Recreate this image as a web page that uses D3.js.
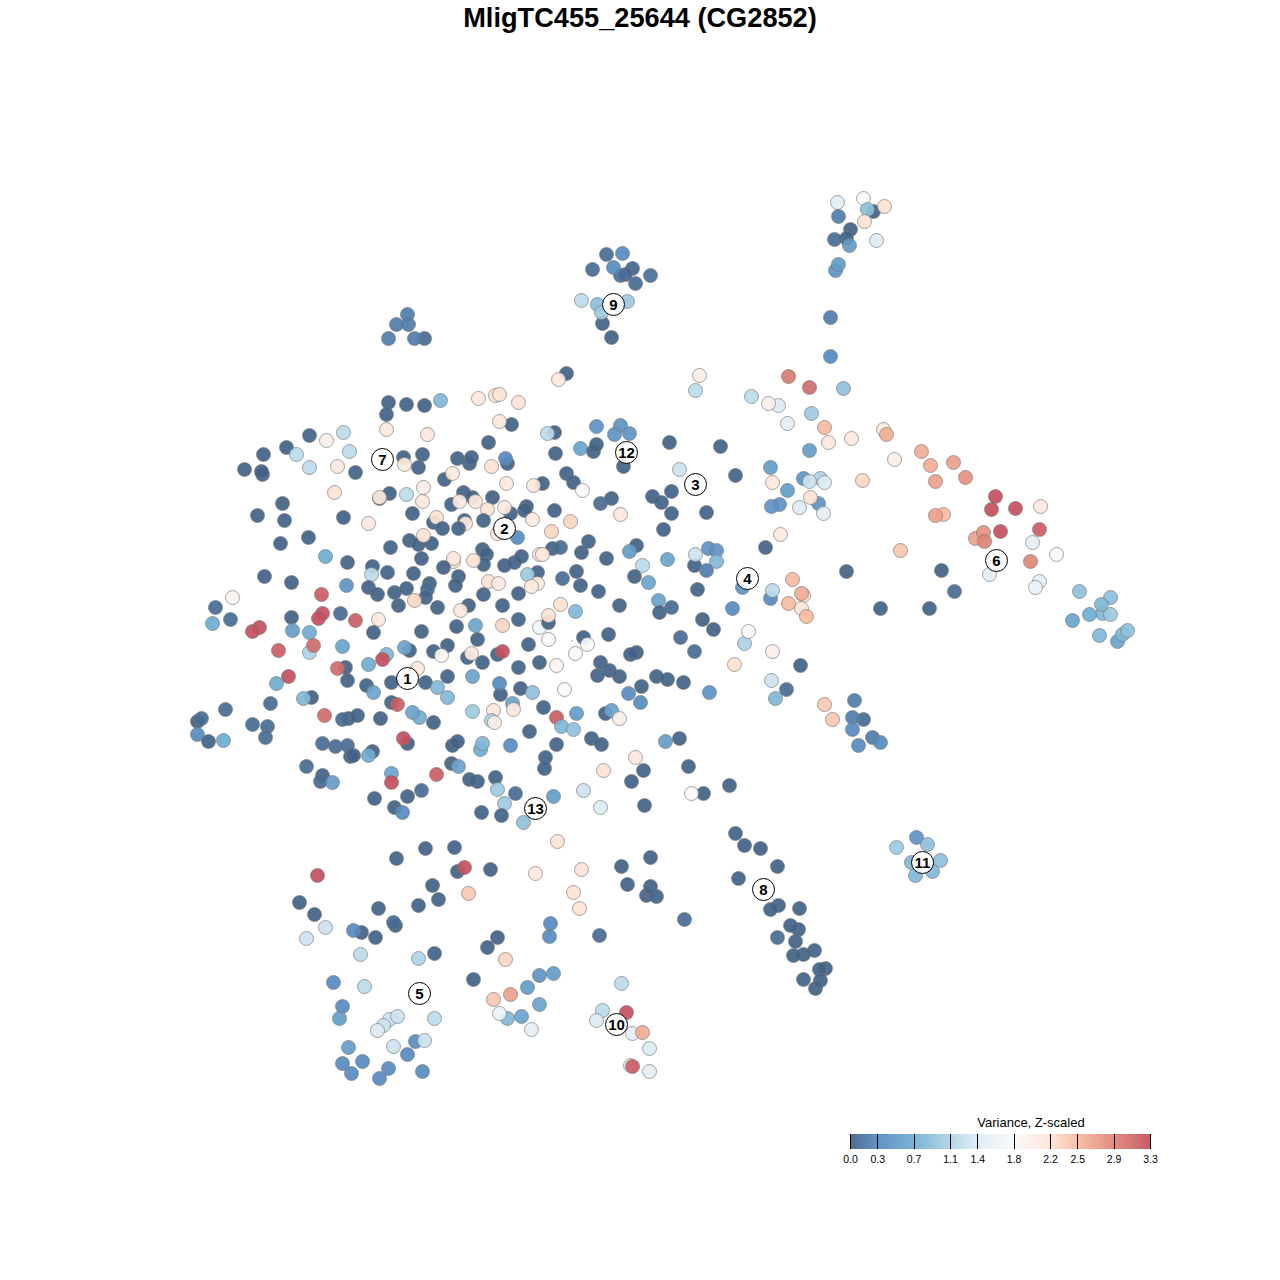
<!DOCTYPE html>
<html><head><meta charset="utf-8">
<script src="https://cdn.jsdelivr.net/npm/d3@7/dist/d3.min.js"></script>
<style>html,body{margin:0;padding:0;background:#fff}svg{display:block}text{font-family:"Liberation Sans",Arial,sans-serif}</style>
</head><body><div id="c"></div>
<script>
const chartTitle="MligTC455_25644 (CG2852)";
const legendTitle="Variance, Z-scaled";
const tickValues=[0,0.3,0.7,1.1,1.4,1.8,2.2,2.5,2.9,3.3];
const tickLabels=["0.0","0.3","0.7","1.1","1.4","1.8","2.2","2.5","2.9","3.3"];
const rampColors=["#053061","#2166ac","#4393c3","#92c5de","#d1e5f0","#f7f7f7","#fddbc7","#f4a582","#d6604d","#b2182b"];
// [tSNE-1, tSNE-2, variance]
const westCells=[[309,435,0],[326,440,2],[349,451,1.2],[343,432,1.2],[286,447,0],[296,454,1.2],[263,454,0],[244,469,0],[262,474,0],[261,471,0],[309,467,1.2],[337,466,2.1],[334,492,2.2],[282,503,0],[257,515,0],[284,520,0],[343,517,0],[308,537,0],[280,543,0],[325,556,.7],[347,562,0],[264,576,0],[291,582,0],[346,585,.4],[232,597,1.9],[321,594,3.2],[215,607,.07],[322,613,3.3],[318,618,3.3],[340,613,.07],[230,619,.07],[291,617,0],[212,623,.7],[259,627,3.3],[252,631,3.3],[292,630,.5],[309,652,1.1],[309,632,.7],[313,645,3.1],[278,650,3.2],[342,646,.6],[345,667,0],[337,668,3.1],[347,680,0],[288,676,3.3],[276,683,.7],[270,703,.07],[311,697,0],[303,698,.8],[324,715,3.1],[225,709,.07],[197,721,0],[201,718,.07],[197,734,.3],[208,741,0],[223,740,.7],[252,724,.07],[267,726,.07],[265,737,.07],[348,718,0],[342,719,.07],[322,743,.07],[335,746,.07],[347,745,.07],[350,756,0],[306,766,.07],[322,775,0],[320,781,.07],[332,782,.5]];
const upperCoreCells=[[388,402,0],[386,414,0],[406,404,0],[424,405,0],[440,400,.8],[478,398,2.1],[495,395,2.2],[499,394,2.2],[518,402,2.2],[511,424,0],[499,421,2.1],[386,429,2.1],[427,434,2.1],[488,442,0],[403,457,0],[404,464,2.1],[422,454,0],[418,467,0],[355,472,0],[457,458,0],[469,463,0],[471,457,0],[507,463,0],[505,458,.3],[491,466,2.2],[444,479,0],[452,473,2.1],[506,483,2.1],[542,483,0],[533,485,2.1],[423,487,2],[389,493,0],[379,498,0],[379,497,2.1],[406,494,1.2],[422,501,2.1],[463,492,0],[472,497,0],[451,504,0],[459,501,2.1],[475,501,2.1],[492,497,0],[487,509,2.2],[510,513,0],[504,507,2.1],[526,506,0],[524,510,0],[532,519,2.1],[412,513,0],[368,523,2.1],[433,522,0],[436,517,2.2],[442,528,0],[464,520,0],[465,523,2.1],[458,528,0],[483,520,0],[497,533,2.1],[517,537,.3],[409,540,0],[418,544,0],[431,543,0],[423,535,2.2],[390,547,0],[421,558,0],[482,549,0],[486,554,0],[483,564,0],[453,561,2.2],[453,558,2.1],[443,567,0],[473,560,2.2],[504,565,0],[514,562,0],[521,556,0],[539,554,2.2],[372,566,0],[371,574,1.2],[387,572,0],[413,573,0],[458,576,0],[455,585,0],[488,581,2.2],[498,583,2.1],[537,572,0],[527,574,1],[537,583,2.1],[531,586,2.1],[368,587,0],[377,594,0],[394,592,0],[406,588,0],[429,583,0],[427,589,.07],[425,597,0],[483,594,0],[518,593,0],[414,600,2.3],[398,605,0],[437,607,0],[468,605,0],[460,610,2.1],[502,605,0],[355,620,3.2],[378,619,2.1],[373,632,0],[518,619,0],[475,625,.6],[502,625,2.3],[456,626,0],[421,631,0],[477,639,0]];
const lowerCoreCells=[[447,645,0],[528,644,0],[539,627,1.7],[548,639,1.8],[386,654,.8],[382,659,3.3],[409,650,0],[404,647,.6],[368,664,.7],[433,651,0],[441,655,1.9],[467,657,0],[471,653,2.1],[497,654,0],[502,651,3.3],[482,662,0],[518,667,0],[539,662,0],[556,665,1.9],[575,653,1.8],[417,668,2.1],[391,682,0],[425,682,0],[447,676,0],[472,676,.6],[437,687,.8],[447,697,.8],[500,694,0],[499,683,.3],[520,688,0],[532,692,.9],[564,689,1.8],[366,685,0],[373,692,.6],[391,702,0],[397,704,3.2],[419,717,.7],[412,712,.6],[433,722,0],[380,718,0],[357,715,0],[472,711,1],[512,703,.6],[513,709,2.1],[493,710,2.1],[491,720,1.1],[494,722,2],[543,707,0],[556,717,3.2],[576,713,.5],[561,726,.8],[573,729,.9],[529,731,0],[556,744,0],[510,745,.3],[480,749,.7],[482,743,.8],[452,745,0],[457,741,0],[407,743,0],[403,738,3.3],[353,755,0],[372,751,0],[368,755,.7],[545,757,0],[544,768,0],[451,763,0],[458,766,.6],[391,773,.6],[391,782,3.3],[436,774,3.2],[477,781,0],[469,779,0],[495,777,0],[497,789,1],[421,790,.07],[407,796,0],[515,793,.07],[553,796,.5],[374,798,0],[394,807,0],[402,812,.3],[504,803,1],[481,812,0],[501,815,0],[523,822,.9],[557,841,2.2],[425,848,0],[454,847,0],[396,858,0],[457,871,0],[464,867,3.3],[490,869,0],[535,873,2.1]];
const eastCoreCells=[[554,432,0],[547,433,1.2],[596,426,.4],[620,425,.4],[614,434,.4],[629,433,.4],[580,448,.6],[593,451,0],[596,444,0],[555,453,0],[623,466,0],[669,442,0],[720,446,0],[679,469,1.3],[735,475,0],[566,473,0],[573,482,0],[582,490,1.8],[611,498,0],[600,503,.07],[652,496,0],[661,502,0],[671,491,0],[671,513,0],[706,512,0],[554,510,0],[620,514,2.1],[570,521,2.3],[551,531,2.3],[663,529,0],[588,541,0],[581,552,0],[552,548,0],[560,547,.07],[542,554,2.1],[636,545,0],[629,551,.5],[606,558,0],[667,559,.6],[642,565,1.2],[634,576,0],[648,582,.6],[694,565,0],[695,554,1.3],[708,548,.4],[716,550,.4],[716,561,.8],[706,570,.2],[765,547,0],[576,571,0],[562,578,.07],[580,585,0],[598,591,0],[619,605,0],[658,600,.6],[659,612,0],[671,607,.07],[697,589,0],[732,608,.3],[742,587,.4],[575,611,.8],[560,604,2.2],[548,622,0],[548,615,2.2],[702,619,0],[713,629,0],[744,643,1.1],[748,631,1.8],[680,637,.07],[694,651,.07],[608,634,0],[583,637,0],[587,644,1.8],[600,662,0],[609,670,0],[597,675,0],[619,676,0],[636,652,0],[630,654,0],[734,664,2.2],[656,676,0],[667,679,0],[683,682,0],[641,686,0],[628,693,.3],[640,702,.3],[709,692,.4],[605,713,0],[611,710,.6],[619,718,2],[591,738,0],[601,744,0],[665,741,.5],[679,738,0],[635,757,2.1],[643,770,0],[631,781,0],[688,766,0],[603,770,2.2],[583,790,1.3],[600,807,1.4],[703,793,0],[691,793,1.8],[729,785,0],[644,805,0]];
const northEastCells=[[837,202,1.5],[863,198,1.8],[873,211,0],[867,209,.9],[884,206,2.2],[838,216,.2],[864,221,2.2],[850,229,0],[846,238,0],[834,239,.07],[849,245,.5],[876,240,1.4],[835,270,.4],[838,264,.5],[830,317,.2],[830,356,.3],[788,376,3],[809,387,3.1],[843,388,.9],[751,396,1.2],[778,405,1.4],[768,403,2],[811,413,1],[787,423,1.5],[824,427,2.5],[828,442,2.1],[851,438,2.1],[883,429,2.1],[886,434,2.6],[809,450,.5],[894,459,2],[921,451,2.6],[930,465,2.6],[953,462,2.7],[965,477,2.8],[935,481,2.7],[770,467,.5],[772,482,2.1],[787,490,.5],[803,478,.4],[820,478,1.1],[809,481,1.3],[824,482,1.4],[862,480,2.3],[818,503,.4],[810,497,2.2],[779,504,.4],[771,506,.4],[799,507,1.4],[823,513,1.5],[995,496,3.3],[991,509,3.3],[1015,508,3.3],[1040,506,2.1],[943,514,2.5],[935,515,2.7],[1000,531,3.3],[1039,529,3.2],[975,538,2.7],[983,532,2.8],[984,541,2.9],[1032,542,1.5],[780,534,2.1],[900,550,2.4],[1056,554,1.8],[1030,561,2.9],[846,571,0],[941,570,0],[989,574,1.5],[1039,581,1.5],[1035,587,1.6],[954,591,.07],[792,579,2.5],[770,598,.3],[772,590,1.2],[803,595,2.2],[801,593,2.6],[788,603,2.5],[801,608,2.2],[806,616,2.5],[880,608,0],[929,608,0],[1079,591,.9],[1110,597,.9],[1102,613,.8],[1101,604,.8],[1089,614,.7],[1110,614,1],[1072,620,.6],[1099,635,.8],[1117,641,.6],[1122,634,.8],[1127,630,.9],[772,651,2]];
const islandCells=[[606,254,.07],[622,253,.3],[592,269,.07],[632,268,.03],[625,274,.03],[620,275,.1],[613,267,.3],[650,275,.1],[635,283,.07],[581,300,1.2],[597,304,.9],[627,301,1],[602,323,0],[601,312,1],[611,337,0],[424,338,.07],[407,314,.2],[396,324,.2],[408,324,.2],[388,338,.2],[414,338,.2],[566,373,0],[558,379,2.1],[699,375,2],[695,390,1.2],[800,665,0],[771,680,1.3],[786,689,.07],[775,698,.8],[824,704,2.4],[832,719,2.4],[854,700,.2],[863,719,.07],[852,717,.2],[852,729,.3],[872,737,.2],[880,742,.3],[858,745,.3],[735,833,0],[744,845,0],[760,848,0],[777,866,0],[738,878,0],[778,905,0],[770,909,0],[799,908,0],[798,929,0],[790,925,0],[777,937,.07],[795,941,0],[814,950,0],[803,954,0],[793,955,0],[825,968,0],[819,969,0],[815,988,0],[820,980,0],[803,979,0],[916,837,.4],[927,844,.9],[896,847,1],[911,862,.8],[940,860,.9],[932,871,.8],[915,875,.8]];
const southCells=[[581,869,2.2],[317,875,3.3],[621,866,0],[650,857,0],[432,885,0],[438,899,0],[418,905,0],[468,893,2.4],[573,892,2.2],[579,908,2.2],[627,884,0],[646,895,0],[656,896,0],[650,886,0],[299,902,0],[314,914,0],[325,927,1.3],[306,938,1.3],[378,908,0],[395,925,0],[393,922,.07],[361,932,0],[353,930,.3],[375,937,0],[550,923,.3],[549,936,.3],[599,935,.07],[684,919,.07],[497,937,0],[487,947,0],[360,954,1.2],[418,958,1.1],[434,953,0],[505,959,2.3],[333,982,.3],[364,986,1.2],[473,979,0],[553,973,.5],[539,975,.4],[527,987,.5],[621,983,1.2],[510,994,2.7],[493,999,2.4],[539,1004,.6],[342,1006,.3],[339,1018,.5],[389,1019,1.3],[397,1016,1.3],[383,1025,1.3],[377,1030,1.4],[434,1018,1.2],[507,1018,.8],[499,1013,1.6],[521,1016,.6],[531,1029,1.5],[602,1010,1.2],[596,1020,1.4],[626,1012,3.3],[632,1033,1.5],[642,1032,2.6],[649,1048,1.4],[630,1065,1.6],[632,1066,3.2],[649,1071,1.5],[348,1047,.5],[393,1046,1.3],[415,1041,.3],[424,1040,1.3],[342,1063,.3],[362,1061,.3],[407,1054,.3],[351,1073,.3],[388,1068,.3],[379,1078,.3],[422,1071,.3]];
const clusterLabels=[["1",407,678],["2",504,528],["3",695,484],["4",747,578],["5",419,993],["6",996,560],["7",382,459],["8",763,889],["9",613,304],["10",616,1024],["11",922,862],["12",626,452],["13",535,808]];
const specks=[[571,640]];

const cells=[...westCells,...upperCoreCells,...lowerCoreCells,...eastCoreCells,...northEastCells,...islandCells,...southCells];
const svg=d3.select("#c").append("svg").attr("width",1280).attr("height",1280);
const x=d3.scaleLinear().domain([0,1280]).range([0.5,1280.5]);
const y=d3.scaleLinear().domain([0,1280]).range([0.5,1280.5]);
const color=d3.scaleLinear().domain(tickValues).range(rampColors).clamp(true);
const fillAlpha=0.92;
const softened=v=>d3.interpolateRgb("#fff",color(v))(0.7/fillAlpha);

svg.append("text").attr("x",640).attr("y",27).attr("text-anchor","middle")
  .attr("font-size",27.2).attr("font-weight","bold").attr("fill","#000").text(chartTitle);

svg.append("g").selectAll("circle").data(cells).join("circle")
  .attr("cx",d=>x(d[0])).attr("cy",d=>y(d[1])).attr("r",7)
  .attr("fill",d=>softened(d[2])).attr("fill-opacity",fillAlpha)
  .attr("stroke","#777").attr("stroke-opacity",0.65).attr("stroke-width",1);

svg.append("g").selectAll("rect").data(specks).join("rect")
  .attr("x",d=>x(d[0])).attr("y",d=>y(d[1])).attr("width",1).attr("height",1).attr("fill","#456");

const lab=svg.append("g").selectAll("g").data(clusterLabels).join("g")
  .attr("transform",d=>`translate(${x(d[1])},${y(d[2])})`);
lab.append("circle").attr("r",11).attr("fill","#fff").attr("fill-opacity",0.9).attr("stroke","#000").attr("stroke-width",1);
lab.append("text").attr("text-anchor","middle").attr("y",5.5).attr("font-size",15).attr("font-weight","bold").attr("fill","#000").text(d=>d[0]);

// legend
const lx=d3.scaleLinear().domain([0,3.3]).range([850,1150]);
const ly0=1134,ly1=1149;
const lg=svg.append("g");
lg.append("text").attr("x",1031).attr("y",1127).attr("text-anchor","middle").attr("font-size",13).attr("fill","#000").text(legendTitle);
lg.append("g").selectAll("rect").data(d3.range(0,300)).join("rect")
  .attr("x",i=>850+i).attr("y",ly0).attr("width",1.02).attr("height",ly1-ly0)
  .attr("fill",i=>color(lx.invert(850+i+.5))).attr("fill-opacity",0.7);
lg.append("g").selectAll("line").data(tickValues).join("line")
  .attr("x1",d=>Math.round(lx(d))+.5).attr("x2",d=>Math.round(lx(d))+.5).attr("y1",ly0).attr("y2",ly1)
  .attr("stroke","#000").attr("stroke-width",1);
lg.append("g").selectAll("text").data(tickValues).join("text")
  .attr("x",d=>lx(d)+.5).attr("y",1163).attr("text-anchor","middle").attr("font-size",10.5).attr("fill","#000")
  .text((d,i)=>tickLabels[i]);
</script></body></html>
